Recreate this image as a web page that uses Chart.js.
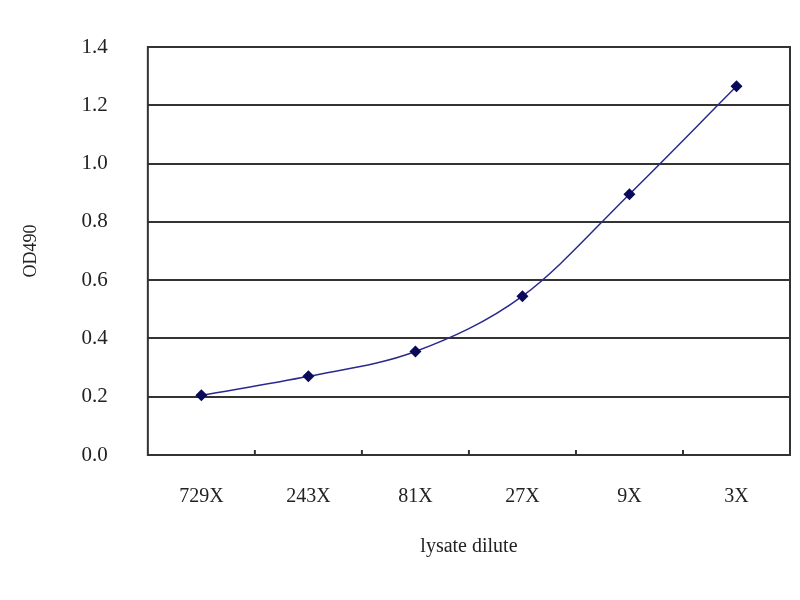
<!DOCTYPE html>
<html>
<head>
<meta charset="utf-8">
<script src="https://cdn.jsdelivr.net/npm/chart.js@4"></script>
<style>
  body { margin: 0; background: #fff; }
  #wrap { width: 800px; height: 600px; }
</style>
</head>
<body>
<div id="wrap"><canvas id="myChart" width="800" height="600"></canvas></div>
<script>
// dados
const dilutions = ['729X', '243X', '81X', '27X', '9X', '3X'];
const od490 = [0.205, 0.27, 0.355, 0.545, 0.895, 1.265];
const yTicks = [0, 0.2, 0.4, 0.6, 0.8, 1.0, 1.2, 1.4];

const serif = "'Liberation Serif', 'DejaVu Serif', serif";

// moldura em volta da área do gráfico + pequenos traços entre categorias
const frame = {
    id: 'frame',
    afterDraw(chart) {
        const { ctx, chartArea: a, scales } = chart;
        ctx.save();
        ctx.strokeStyle = '#333';
        ctx.lineWidth = 2;
        ctx.strokeRect(a.left, a.top, a.right - a.left, a.bottom - a.top);
        let x = scales.x;
        for (let i = 1; i < dilutions.length; i++) {
            let px = (x.getPixelForValue(i - 1) + x.getPixelForValue(i)) / 2;
            ctx.beginPath();
            ctx.moveTo(px, a.bottom);
            ctx.lineTo(px, a.bottom - 5);
            ctx.stroke();
        }
        ctx.restore();
    }
};

const ctx = document.getElementById('myChart').getContext('2d');
const myChart = new Chart(ctx, {
    type: 'line',
    data: {
        labels: dilutions,
        datasets: [{
            label: 'OD490',
            data: od490,
            borderColor: '#2a2a8c',
            backgroundColor: '#0a0a5a',
            borderWidth: 1.5,
            pointStyle: 'rectRot',
            pointRadius: 6,
            pointBorderWidth: 0,
            cubicInterpolationMode: 'monotone',
            fill: false
        }]
    },
    options: {
        responsive: false,
        animation: false,
        layout: { padding: { top: 47, right: 10, bottom: 37, left: 20 } },
        plugins: {
            legend: { display: false },
            tooltip: { enabled: false }
        },
        scales: {
            x: {
                offset: true,
                grid: { display: false },
                border: { display: false },
                ticks: {
                    color: '#222',
                    padding: 22,
                    font: { family: serif, size: 20 }
                },
                title: {
                    display: true,
                    text: 'lysate dilute',
                    color: '#222',
                    padding: { top: 4 },
                    font: { family: serif, size: 20 }
                }
            },
            y: {
                min: 0,
                max: 1.4,
                afterBuildTicks: (axis) => {
                    axis.ticks = yTicks.map(v => ({ value: v }));
                },
                grid: {
                    color: '#333',
                    lineWidth: 2,
                    tickLength: 38,
                    tickColor: 'rgba(0,0,0,0)'
                },
                border: { display: false },
                ticks: {
                    color: '#222',
                    padding: 2,
                    font: { family: serif, size: 21 },
                    callback: (v) => Number(v).toFixed(1)
                },
                title: {
                    display: true,
                    text: 'OD490',
                    color: '#222',
                    padding: { top: 0, bottom: 38 },
                    font: { family: serif, size: 18 }
                }
            }
        }
    },
    plugins: [frame]
});
</script>
</body>
</html>
